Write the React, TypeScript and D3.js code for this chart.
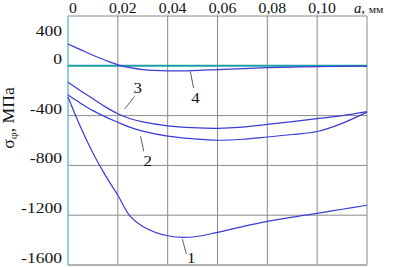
import React from 'react';
import * as d3 from 'd3';

// depth a, mm (shared sampling for all curves)
const depth = [0, 0.005, 0.01, 0.015, 0.02, 0.025, 0.03, 0.04, 0.05, 0.06, 0.07, 0.08, 0.09, 0.1, 0.11, 0.12];

// sigma_phi, MPa
const curve1 = [-250, -490, -700, -880, -1040, -1210, -1290, -1365, -1375, -1338, -1292, -1250, -1215, -1185, -1152, -1120];
const curve2 = [-235, -300, -360, -410, -453, -495, -525, -565, -586, -598, -590, -572, -552, -528, -462, -372];
const curve3 = [-133, -200, -265, -330, -385, -425, -450, -482, -497, -502, -492, -470, -448, -425, -400, -368];
const curve4 = [175, 130, 85, 45, 8, -15, -30, -40, -38, -30, -22, -15, -10, -7, -4, -2];

const series = [curve1, curve2, curve3, curve4];

const xTicks = [0, 0.02, 0.04, 0.06, 0.08, 0.1];
const xTickLabels = ['0', '0,02', '0,04', '0,06', '0,08', '0,10'];
const yTicks = [400, 0, -400, -800, -1200, -1600];

// callout numbers: leader start, leader end, text position (data units)
const callouts = [
  { label: '1', x1: 0.0459, y1: -1392, x2: 0.0475, y2: -1512, tx: 0.0495, ty: -1584 },
  { label: '2', x1: 0.0291, y1: -566, x2: 0.0304, y2: -686, tx: 0.032, ty: -808 },
  { label: '3', x1: 0.0267, y1: -246, x2: 0.0228, y2: -346, tx: 0.028, ty: -216 },
  { label: '4', x1: 0.0491, y1: -46, x2: 0.0504, y2: -178, tx: 0.0512, ty: -296 },
];

const W = 396;
const H = 267;
const left = 68, right = 367, top = 16, bottom = 265;
const font = "'Liberation Serif', 'Times New Roman', Times, 'DejaVu Serif', serif";
const stretch = 1.13;

export default function App() {
  const x = d3.scaleLinear().domain([0, 0.12]).range([left, right]);
  const y = d3.scaleLinear().domain([400, -1600]).range([top, bottom]);

  const line = d3
    .line<number>()
    .x((_, i) => x(depth[i]))
    .y(d => y(d))
    .curve(d3.curveCatmullRom.alpha(0.5));

  return (
    <svg width={W} height={H} style={{ position: 'absolute', left: 0, top: 0, background: '#fff' }}>
      <style>{`text { font-family: ${font}; fill: #111; }`}</style>
      {/* grid */}
      {xTicks.slice(1).map(t => (
        <line key={'gx' + t} x1={x(t)} x2={x(t)} y1={top} y2={bottom} stroke="#8a8a8a" strokeWidth={1} />
      ))}
      {[-400, -800, -1200].map(t => (
        <line key={'gy' + t} x1={left} x2={right} y1={y(t)} y2={y(t)} stroke="#8a8a8a" strokeWidth={1} />
      ))}
      {/* frame */}
      <line x1={left} x2={right} y1={top} y2={top} stroke="#8a8a8a" />
      <line x1={right} x2={right} y1={top} y2={bottom} stroke="#8a8a8a" />
      <line x1={left} x2={right} y1={bottom} y2={bottom} stroke="#b0b0b0" strokeWidth={2} />
      <line x1={left} x2={left} y1={top} y2={bottom} stroke="#6cc0cc" strokeWidth={1.5} />
      {/* zero line */}
      <line x1={left} x2={right} y1={y(0)} y2={y(0)} stroke="#1a9fa6" strokeWidth={2} />

      {series.map((s, i) => (
        <path key={i} d={line(s) || ''} fill="none" stroke="#3b3bd6" strokeWidth={1.2} />
      ))}

      {callouts.map(c => (
        <g key={c.label}>
          <line x1={x(c.x1)} y1={y(c.y1)} x2={x(c.x2)} y2={y(c.y2)} stroke="#333" strokeWidth={0.8} />
          <text
            transform={`translate(${x(c.tx)},${y(c.ty)}) scale(${stretch},1)`}
            textAnchor="middle"
            fontSize={15}
          >
            {c.label}
          </text>
        </g>
      ))}

      {/* top axis labels */}
      {xTicks.map((t, i) => (
        <text
          key={'xt' + t}
          transform={`translate(${x(t) + 5},13) scale(${stretch},1)`}
          textAnchor="middle"
          fontSize={14}
        >
          {xTickLabels[i]}
        </text>
      ))}
      <text transform={`translate(354,13) scale(1.05,1)`} fontSize={14}>
        <tspan fontStyle="italic">a</tspan>
        <tspan>, </tspan>
        <tspan fontSize={11}>мм</tspan>
      </text>

      {/* left axis labels */}
      {yTicks.map(t => (
        <text
          key={'yt' + t}
          transform={`translate(62,${Math.max(y(t) - 2, top + 20)}) scale(${stretch + 0.04},1)`}
          textAnchor="end"
          fontSize={15}
        >
          {t}
        </text>
      ))}
      <text transform={`translate(14,118) rotate(-90) scale(1.1,1)`} textAnchor="middle" fontSize={16}>
        σ<tspan fontSize={11} dy={3}>φ</tspan>
        <tspan dy={-3}>, МПа</tspan>
      </text>
    </svg>
  );
}
